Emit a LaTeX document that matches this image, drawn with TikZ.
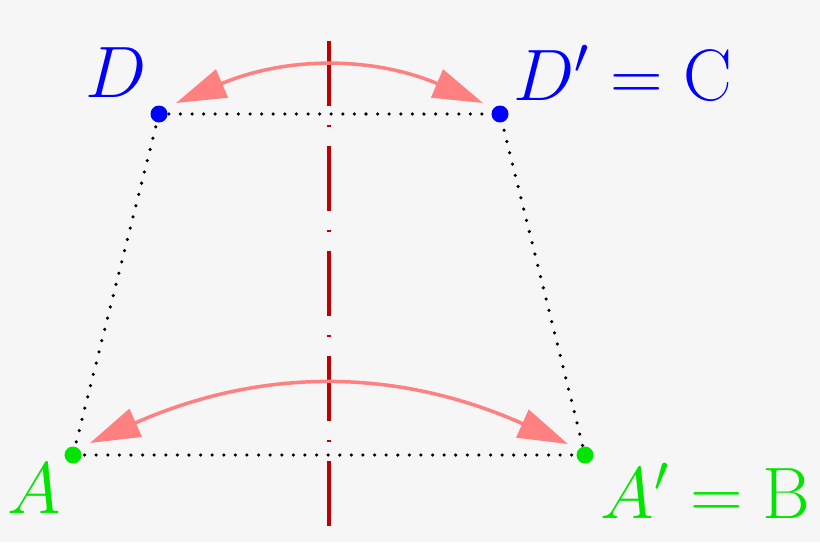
\documentclass[tikz,border=0pt]{standalone}
\usepackage{tikz}
\usetikzlibrary{arrows.meta}
\definecolor{bgcol}{HTML}{F6F6F6}
\definecolor{axiscol}{HTML}{C00000}
\definecolor{arccol}{HTML}{FF8080}
\definecolor{ptgreen}{HTML}{00E600}
\tikzset{
	pt/.style={fill=#1, draw=none},
	edge/.style={line width=1pt, line cap=round, dash pattern=on 0pt off 3.3pt},
	swap/.style={line width=1pt, draw=arccol, {Triangle[length=0.5cm,width=0.3cm,fill=arccol]}-{Triangle[length=0.5cm,width=0.3cm,fill=arccol]}},
	lab/.style={font=\fontsize{20.4}{24}\selectfont, inner sep=0pt}
}

\begin{document}
\begin{tikzpicture}
			%%%%% START %%%%%
			\useasboundingbox (0, 0) rectangle (8.2, 5.42);
			\fill[bgcol] (0, 0) rectangle (8.2, 5.42);
			
			\coordinate (D) at (1.59, 4.28);
			\coordinate (Dp) at (5.00, 4.28);
			\coordinate (A) at (0.73, 0.87);
			\coordinate (Ap) at (5.85, 0.87);
			
			% trapezium
			\draw[edge] (A) -- (Ap) -- (Dp) -- (D) -- cycle;
			
			% axis of symmetry
			\coordinate (top) at (3.29, 5.01);
			\coordinate (bot) at (3.29, 0.15);
			\draw[axiscol, line width=0.95pt, dash pattern=on 0.65cm off 0.19cm on 0.02cm off 0.19cm] (top) -- (bot);
			
			% reflections
			\draw[swap] ([shift={(0.17, 0.11)}]D) to[bend left=23] ([shift={(-0.17, 0.11)}]Dp);
			\draw[swap] ([shift={(0.17, 0.12)}]A) to[bend left=24] ([shift={(-0.17, 0.11)}]Ap);
			
			\fill[pt=blue] (D) circle (0.085);
			\fill[pt=blue] (Dp) circle (0.085);
			\fill[pt=ptgreen] (A) circle (0.085);
			\fill[pt=ptgreen] (Ap) circle (0.085);
			
			\node[lab, text=blue] (labD) at (1.16, 4.69) {$D$};
			\node[lab, text=blue, anchor=west] (labDp) at (5.13, 4.69) {$D' = \mathrm{C}$};
			\node[lab, text=ptgreen] (labA) at (0.34, 0.53) {$A$};
			\node[lab, text=ptgreen, anchor=west] (labAp) at (6.00, 0.51) {$A' = \mathrm{B}$};
			%%%%% END %%%%%
\end{tikzpicture}
\end{document}
